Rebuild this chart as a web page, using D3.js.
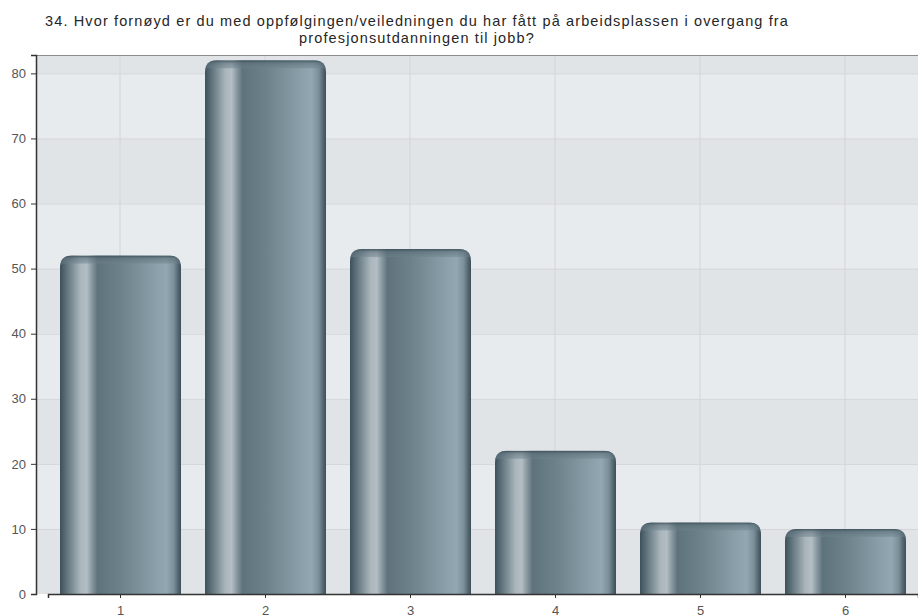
<!DOCTYPE html>
<html>
<head>
<meta charset="utf-8">
<script src="https://cdn.jsdelivr.net/npm/d3@7"></script>
<style>
  html, body { margin: 0; padding: 0; background: #fff; }
  svg { display: block; font-family: "Liberation Sans", Arial, sans-serif; }
</style>
</head>
<body>
<script>
let width = 918;
let height = 616;

// data
let categories = ["1", "2", "3", "4", "5", "6"];
let counts = [52, 82, 53, 22, 11, 10];
let yTicks = [0, 10, 20, 30, 40, 50, 60, 70, 80];
let titleLines = [
  "34. Hvor fornøyd er du med oppfølgingen/veiledningen du har fått på arbeidsplassen i overgang fra",
  "profesjonsutdanningen til jobb?"
];

let plot = {left: 36, right: 918, top: 55, bottom: 594};

let svg = d3.select("body").append("svg")
            .attr("width", width)
            .attr("height", height);

let x = d3.scaleBand()
          .domain(categories)
          .range([48, 918])
          .paddingInner(0.1655)
          .paddingOuter(0.0828);

let y = d3.scaleLinear()
          .domain([0, d3.max(counts) * 1.01])
          .range([plot.bottom, plot.top]);

let defs = svg.append("defs");

// cylinder shading across the bar
let body = defs.append("linearGradient")
               .attr("id", "barBody")
               .attr("x1", "0%").attr("x2", "100%")
               .attr("y1", "0%").attr("y2", "0%");
[
  [0, "#3e505a"], [4, "#566a74"], [10, "#7d8d95"], [17, "#aab6bc"],
  [22, "#b3bec4"], [26, "#8c9ba3"], [31, "#5f737d"], [50, "#6d818b"],
  [80, "#8ba0aa"], [88, "#91a7b1"], [94, "#7a8f99"], [98, "#50636d"],
  [100, "#3d4e57"]
].forEach(function(s) {
  body.append("stop").attr("offset", s[0] + "%").attr("stop-color", s[1]);
});

// darker lid on top of each bar
let lid = defs.append("linearGradient")
              .attr("id", "barLid")
              .attr("x1", "0%").attr("x2", "0%")
              .attr("y1", "0%").attr("y2", "100%");
lid.append("stop").attr("offset", "0%").attr("stop-color", "#3c4f59").attr("stop-opacity", 0.95);
lid.append("stop").attr("offset", "35%").attr("stop-color", "#5a6e78").attr("stop-opacity", 0.6);
lid.append("stop").attr("offset", "100%").attr("stop-color", "#6f838d").attr("stop-opacity", 0.45);

// plot background bands
let bandEdges = yTicks.concat([y.domain()[1]]);
svg.append("g")
   .selectAll("rect")
   .data(bandEdges.slice(0, -1))
   .enter().append("rect")
   .attr("x", plot.left)
   .attr("width", plot.right - plot.left)
   .attr("y", function(d, i) { return y(bandEdges[i + 1]); })
   .attr("height", function(d, i) { return y(d) - y(bandEdges[i + 1]); })
   .attr("fill", function(d) { return (d / 10) % 2 == 0 ? "#e1e4e7" : "#e8ebee"; });

// grid
svg.append("g")
   .selectAll("line")
   .data(yTicks.slice(1))
   .enter().append("line")
   .attr("x1", plot.left).attr("x2", plot.right)
   .attr("y1", function(d) { return y(d) + 0.5; })
   .attr("y2", function(d) { return y(d) + 0.5; })
   .attr("stroke", "#d2d5d8");

svg.append("g")
   .selectAll("line")
   .data(categories)
   .enter().append("line")
   .attr("x1", function(d) { return x(d) + x.bandwidth() / 2 - 0.5; })
   .attr("x2", function(d) { return x(d) + x.bandwidth() / 2 - 0.5; })
   .attr("y1", plot.top).attr("y2", plot.bottom)
   .attr("stroke", "#d2d5d8");

svg.append("line")
   .attr("x1", plot.left).attr("x2", plot.right)
   .attr("y1", plot.top + 0.5).attr("y2", plot.top + 0.5)
   .attr("stroke", "#8a8c8f");

// bars
function barPath(d, i) {
  let x0 = x(categories[i]);
  let x1 = x0 + x.bandwidth();
  let top = y(d);
  let r = 12;
  return "M" + x0 + "," + plot.bottom +
         "V" + (top + r) +
         "Q" + x0 + "," + top + " " + (x0 + r) + "," + top +
         "H" + (x1 - r) +
         "Q" + x1 + "," + top + " " + x1 + "," + (top + r) +
         "V" + plot.bottom + "Z";
}

let bars = svg.append("g");

bars.selectAll("clipPath")
    .data(counts)
    .enter().append("clipPath")
    .attr("id", function(d, i) { return "clip" + i; })
    .append("path")
    .attr("d", barPath);

bars.selectAll("path.body")
    .data(counts)
    .enter().append("path")
    .attr("class", "body")
    .attr("d", barPath)
    .attr("fill", "url(#barBody)");

bars.selectAll("rect.lid")
    .data(counts)
    .enter().append("rect")
    .attr("class", "lid")
    .attr("clip-path", function(d, i) { return "url(#clip" + i + ")"; })
    .attr("x", function(d, i) { return x(categories[i]); })
    .attr("width", x.bandwidth())
    .attr("y", function(d) { return y(d); })
    .attr("height", 8)
    .attr("fill", "url(#barLid)");

// axes
let yAxis = svg.append("g")
               .attr("transform", "translate(" + plot.left + ",0)")
               .call(d3.axisLeft(y).tickValues(yTicks).tickSize(5).tickPadding(5));
let xAxis = svg.append("g")
               .attr("transform", "translate(0," + plot.bottom + ")")
               .call(d3.axisBottom(x).tickSize(4).tickPadding(8));

[yAxis, xAxis].forEach(function(a) {
  a.attr("font-size", 13).attr("font-family", "Liberation Sans, Arial, sans-serif");
  a.select(".domain").attr("stroke", "#333").attr("stroke-width", 1.5);
  a.selectAll(".tick line").attr("stroke", "#333");
  a.selectAll(".tick text").attr("fill", "#555");
});

// title
let title = svg.append("g")
               .attr("font-size", 14.5)
               .attr("fill", "#262626")
               .attr("text-anchor", "middle");
title.selectAll("text")
     .data(titleLines)
     .enter().append("text")
     .attr("x", 417)
     .attr("y", function(d, i) { return 26 + i * 17; })
     .text(function(d) { return d; });

// adjust the letter spacing so the first line spans like the original
let first = title.select("text");
let measured = first.node().getComputedTextLength();
let n = titleLines[0].length;
title.attr("letter-spacing", (744 - measured) / n);
</script>
</body>
</html>
